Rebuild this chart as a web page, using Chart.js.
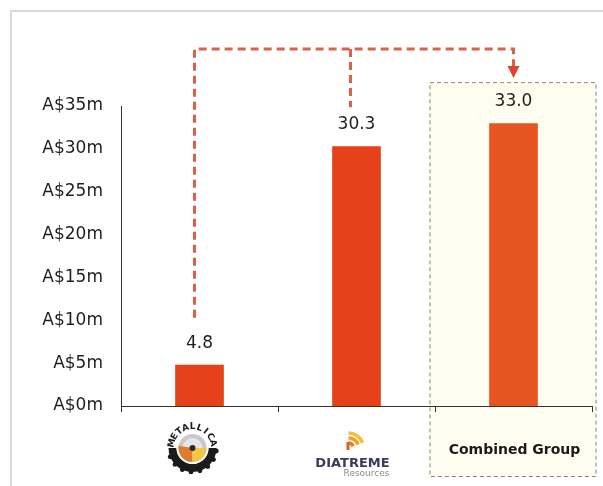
<!DOCTYPE html>
<html>
<head>
<meta charset="utf-8">
<script src="https://cdn.jsdelivr.net/npm/chart.js@4/dist/chart.umd.min.js"></script>
<style>
  html, body { margin: 0; padding: 0; background: #ffffff; }
  #wrap { width: 603px; height: 486px; position: relative; }
</style>
</head>
<body>
<div id="wrap"><canvas id="c" width="603" height="486"></canvas></div>
<script>
// ---- data ----
const categories = ['Metallica Minerals', 'Diatreme Resources', 'Combined Group'];
const values = [4.8, 30.3, 33.0];
const barColors = ['#E5421B', '#E5421B', '#E6551F'];
const yTicks = [0, 5, 10, 15, 20, 25, 30, 35];
const yTickLabels = ['A$0m', 'A$5m', 'A$10m', 'A$15m', 'A$20m', 'A$25m', 'A$30m', 'A$35m'];

const FONT = '"DejaVu Sans", Verdana, sans-serif';

const decor = {
  id: 'decor',
  beforeDraw(chart) {
    const ctx = chart.ctx;
    const x = chart.scales.x, y = chart.scales.y;
    ctx.save();
    ctx.fillStyle = '#ffffff';
    ctx.fillRect(0, 0, chart.width, chart.height);
    // outer frame
    ctx.strokeStyle = '#d9d9d9';
    ctx.lineWidth = 2;
    ctx.beginPath();
    ctx.moveTo(11, chart.height + 5);
    ctx.lineTo(11, 11);
    ctx.lineTo(chart.width + 5, 11);
    ctx.stroke();
    // combined group box
    const c3 = x.getPixelForValue(2);
    const top = y.getPixelForValue(values[2]) - 41;
    const left = c3 - 84, right = c3 + 82, bottom = chart.height - 10;
    ctx.fillStyle = '#FFFCF0';
    ctx.fillRect(left, top, right - left, bottom - top);
    ctx.strokeStyle = '#8c8474';
    ctx.lineWidth = 1;
    ctx.setLineDash([4, 3]);
    ctx.strokeRect(left + 0.5, top + 0.5, right - left, bottom - top);
    ctx.setLineDash([]);
    ctx.restore();
  },
  afterDatasetsDraw(chart) {
    const ctx = chart.ctx;
    const x = chart.scales.x, y = chart.scales.y;
    const meta = chart.getDatasetMeta(0);
    ctx.save();
    // value labels
    ctx.font = '17px ' + FONT;
    ctx.fillStyle = '#1f1f1f';
    ctx.textAlign = 'center';
    ctx.textBaseline = 'bottom';
    meta.data.forEach((bar, i) => {
      ctx.fillText(values[i].toFixed(1), bar.x, bar.y - 13);
    });
    // dashed connector
    const x1 = meta.data[0].x - 5, x2 = meta.data[1].x - 6, x3 = meta.data[2].x;
    const yTop = 49;
    ctx.strokeStyle = '#D9624A';
    ctx.lineWidth = 3;
    ctx.setLineDash([8, 5]);
    ctx.beginPath();
    ctx.moveTo(x1, meta.data[0].y - 47);
    ctx.lineTo(x1, yTop);
    ctx.lineTo(x3, yTop);
    ctx.lineTo(x3, 67);
    ctx.moveTo(x2, yTop);
    ctx.lineTo(x2, meta.data[1].y - 39);
    ctx.stroke();
    ctx.setLineDash([]);
    ctx.fillStyle = '#E0442A';
    ctx.beginPath();
    ctx.moveTo(x3 - 6, 66);
    ctx.lineTo(x3 + 6, 66);
    ctx.lineTo(x3, 78);
    ctx.closePath();
    ctx.fill();

    // category labels
    drawMetallica(ctx, x.getPixelForValue(0) - 7, 448);
    drawDiatreme(ctx, x.getPixelForValue(1) - 4, 448);
    ctx.font = 'bold 14px ' + FONT;
    ctx.fillStyle = '#1a1a1a';
    ctx.textAlign = 'center';
    ctx.textBaseline = 'middle';
    ctx.fillText(categories[2], x.getPixelForValue(2) + 1, 450);
    ctx.restore();
  }
};

function drawMetallica(ctx, cx, cy) {
  ctx.save();
  // bottom cog ring
  ctx.fillStyle = '#1b1b1b';
  ctx.beginPath();
  ctx.arc(cx, cy, 24, Math.PI * 0.0, Math.PI * 1.0);
  ctx.arc(cx, cy, 16, Math.PI * 1.0, Math.PI * 0.0, true);
  ctx.closePath();
  ctx.fill();
  // teeth
  for (let a = 0.04; a < 1.0; a += 0.12) {
    const ang = Math.PI * a;
    ctx.beginPath();
    ctx.arc(cx + Math.cos(ang) * 24, cy + Math.sin(ang) * 24, 2.4, 0, Math.PI * 2);
    ctx.fill();
  }
  // arched text
  const word = 'METALLICA';
  ctx.font = 'bold 9px ' + FONT;
  ctx.textAlign = 'center';
  ctx.textBaseline = 'middle';
  const start = Math.PI * 1.02, end = Math.PI * 1.98;
  for (let i = 0; i < word.length; i++) {
    const ang = start + (end - start) * (i + 0.5) / word.length;
    ctx.save();
    ctx.translate(cx + Math.cos(ang) * 21, cy + Math.sin(ang) * 21);
    ctx.rotate(ang + Math.PI / 2);
    ctx.fillText(word[i], 0, 0);
    ctx.restore();
  }
  // inner disk
  ctx.fillStyle = '#ffffff';
  ctx.beginPath(); ctx.arc(cx, cy, 16, 0, Math.PI * 2); ctx.fill();
  ctx.fillStyle = '#c9c9c9';
  ctx.beginPath(); ctx.arc(cx, cy, 14, 0, Math.PI * 2); ctx.fill();
  ctx.fillStyle = '#E6E6E6';
  ctx.beginPath(); ctx.arc(cx, cy, 10, 0, Math.PI * 2); ctx.fill();
  ctx.fillStyle = '#E07A2E';
  ctx.beginPath(); ctx.moveTo(cx, cy); ctx.arc(cx, cy, 14, Math.PI * 0.5, Math.PI * 1.05); ctx.closePath(); ctx.fill();
  ctx.fillStyle = '#F2C843';
  ctx.beginPath(); ctx.moveTo(cx, cy); ctx.arc(cx, cy, 14, 0, Math.PI * 0.5); ctx.closePath(); ctx.fill();
  ctx.fillStyle = '#2a2a2a';
  ctx.beginPath(); ctx.arc(cx, cy, 3, 0, Math.PI * 2); ctx.fill();
  ctx.restore();
}

function drawDiatreme(ctx, cx, cy) {
  ctx.save();
  const ix = cx - 4, iy = cy;
  const cols = ['#EE8020', '#F3A126', '#F6BE34'];
  ctx.lineWidth = 3.5;
  [5, 10, 15].forEach((r, i) => {
    ctx.strokeStyle = cols[i];
    ctx.beginPath();
    ctx.arc(ix, iy, r, -Math.PI / 2, -0.35);
    ctx.stroke();
  });
  ctx.fillStyle = '#E5601E';
  ctx.fillRect(ix - 2, iy - 6, 3, 8);
  ctx.font = 'bold 13px ' + FONT;
  ctx.fillStyle = '#3a3d55';
  ctx.textAlign = 'center';
  ctx.textBaseline = 'alphabetic';
  ctx.fillText('DIATREME', cx, cy + 19);
  ctx.font = '9px ' + FONT;
  ctx.fillStyle = '#8a8a8a';
  ctx.textAlign = 'right';
  ctx.fillText('Resources', cx + 37, cy + 28);
  ctx.restore();
}

new Chart(document.getElementById('c'), {
  type: 'bar',
  data: {
    labels: categories,
    datasets: [{
      data: values,
      backgroundColor: barColors,
      borderWidth: 0,
      barPercentage: 0.31,
      categoryPercentage: 1.0
    }]
  },
  options: {
    responsive: false,
    animation: false,
    devicePixelRatio: 1,
    layout: { padding: { top: 106, right: 11, left: 0, bottom: 0 } },
    plugins: { legend: { display: false }, tooltip: { enabled: false } },
    scales: {
      x: {
        afterFit(s) { s.height = 80; },
        ticks: { display: false },
        grid: { display: true, drawOnChartArea: false, tickLength: 6, color: '#333333', lineWidth: 1 },
        border: { display: true, color: '#333333', width: 1 }
      },
      y: {
        min: 0, max: 35,
        afterFit(s) { s.width = 121; },
        afterBuildTicks(s) { s.ticks = yTicks.map(v => ({ value: v })); },
        ticks: {
          padding: 18,
          color: '#1f1f1f',
          font: { family: FONT, size: 17 },
          callback(v) { return yTickLabels[yTicks.indexOf(v)]; }
        },
        grid: { display: false, drawTicks: false },
        border: { display: true, color: '#333333', width: 1 }
      }
    }
  },
  plugins: [decor]
});
</script>
</body>
</html>
